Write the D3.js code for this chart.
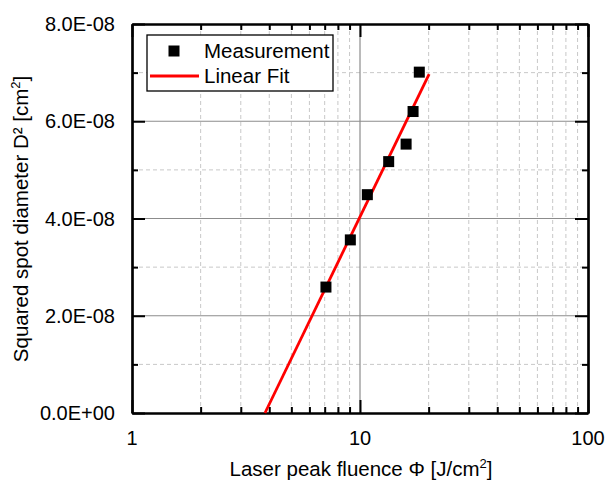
<!DOCTYPE html>
<html>
<head>
<meta charset="utf-8">
<script src="https://cdn.jsdelivr.net/npm/d3@7"></script>
<style>
  body { margin: 0; background: #fff; }
  svg text { font-family: "Liberation Sans", Arial, sans-serif; fill: #000; }
</style>
</head>
<body>
<svg width="606" height="480"></svg>
<script>
// data
var fluence = [7.09, 9.07, 10.77, 13.36, 15.93, 17.09, 18.2];
var diameterSq = [2.59e-8, 3.56e-8, 4.49e-8, 5.17e-8, 5.53e-8, 6.20e-8, 7.01e-8];
// two ends of the fitted line (linear in log x)
var fitFluence = [3.83, 20.1];
var fitD2 = [0, 6.97e-8];

var xMajor = [1, 10, 100];
var xMajorLabels = ["1", "10", "100"];
var yMajor = [0, 2e-8, 4e-8, 6e-8, 8e-8];
var yMajorLabels = ["0.0E+00", "2.0E-08", "4.0E-08", "6.0E-08", "8.0E-08"];
var yMinor = [1e-8, 3e-8, 5e-8, 7e-8];
var legendNames = ["Measurement", "Linear Fit"];

var svg = d3.select("svg"),
    margin = {top: 24, right: 18, bottom: 67, left: 132},
    width = +svg.attr("width") - margin.left - margin.right,
    height = +svg.attr("height") - margin.top - margin.bottom;

var x = d3.scaleLog().domain([1, 100]).range([0, width]),
    y = d3.scaleLinear().domain([0, 8e-8]).range([height, 0]);

// minor x values 2..9, 20..90
var xMinor = [];
[1, 10].forEach(function(d) {
  for (var k = 2; k <= 9; k++) xMinor.push(d * k);
});

var g = svg.append("g")
    .attr("transform", "translate(" + margin.left + "," + margin.top + ")");

// grid: minor dashed
g.selectAll(".gx-minor").data(xMinor).enter().append("line")
    .attr("x1", function(d) { return x(d); }).attr("x2", function(d) { return x(d); })
    .attr("y1", 0).attr("y2", height)
    .attr("stroke", "#c8c8c8").attr("stroke-dasharray", "4,3");
g.selectAll(".gy-minor").data(yMinor).enter().append("line")
    .attr("x1", 0).attr("x2", width)
    .attr("y1", function(d) { return y(d); }).attr("y2", function(d) { return y(d); })
    .attr("stroke", "#c8c8c8").attr("stroke-dasharray", "4,3");

// grid: major solid
g.selectAll(".gx-major").data([10]).enter().append("line")
    .attr("x1", function(d) { return x(d); }).attr("x2", function(d) { return x(d); })
    .attr("y1", 0).attr("y2", height)
    .attr("stroke", "#8c8c8c").attr("stroke-width", 1.2);
g.selectAll(".gy-major").data([2e-8, 4e-8, 6e-8]).enter().append("line")
    .attr("x1", 0).attr("x2", width)
    .attr("y1", function(d) { return y(d); }).attr("y2", function(d) { return y(d); })
    .attr("stroke", "#8c8c8c").attr("stroke-width", 1.2);

// axes with inward ticks on all four sides
function styleAxis(sel) {
  sel.select(".domain").attr("stroke", "#000").attr("stroke-width", 2.2);
  sel.selectAll(".tick line").attr("stroke", "#000").attr("stroke-width", 2);
  sel.selectAll(".tick text").remove();
}

[
  [d3.axisBottom, "translate(0," + height + ")", -1],
  [d3.axisTop, "translate(0,0)", -1]
].forEach(function(a) {
  g.append("g").attr("transform", a[1])
      .call(a[0](x).tickValues(xMinor).tickSize(6 * a[2]).tickSizeOuter(0))
      .call(styleAxis);
  g.append("g").attr("transform", a[1])
      .call(a[0](x).tickValues(xMajor).tickSize(13 * a[2]).tickSizeOuter(0))
      .call(styleAxis);
});
[
  [d3.axisLeft, "translate(0,0)"],
  [d3.axisRight, "translate(" + width + ",0)"]
].forEach(function(a) {
  g.append("g").attr("transform", a[1])
      .call(a[0](y).tickValues(yMinor).tickSize(-6).tickSizeOuter(0))
      .call(styleAxis);
  g.append("g").attr("transform", a[1])
      .call(a[0](y).tickValues(yMajor).tickSize(-13).tickSizeOuter(0))
      .call(styleAxis);
});

// tick labels
g.selectAll(".xlab").data(xMajor).enter().append("text")
    .attr("x", function(d) { return x(d); })
    .attr("y", height + 32)
    .attr("text-anchor", "middle")
    .attr("font-size", 20)
    .text(function(d, i) { return xMajorLabels[i]; });
g.selectAll(".ylab").data(yMajor).enter().append("text")
    .attr("x", -17)
    .attr("y", function(d) { return y(d); })
    .attr("dy", "0.36em")
    .attr("text-anchor", "end")
    .attr("font-size", 20)
    .text(function(d, i) { return yMajorLabels[i]; });

// axis titles
var xt = svg.append("text")
    .attr("x", margin.left + x(10) + 1)
    .attr("y", 476)
    .attr("text-anchor", "middle")
    .attr("font-size", 20.5);
xt.append("tspan").text("Laser peak fluence \u03A6 [J/cm");
xt.append("tspan").attr("font-size", 13).attr("dy", -8).text("2");
xt.append("tspan").attr("dy", 8).text("]");

var yt = svg.append("text")
    .attr("transform", "translate(28,219) rotate(-90)")
    .attr("text-anchor", "middle")
    .attr("font-size", 20.5);
yt.append("tspan").text("Squared spot diameter D\u00B2 [cm");
yt.append("tspan").attr("font-size", 13).attr("dy", -8).text("2");
yt.append("tspan").attr("dy", 8).text("]");

// fit line
var line = d3.line()
    .x(function(d) { return x(d[0]); })
    .y(function(d) { return y(d[1]); });
g.append("path")
    .datum(d3.zip(fitFluence, fitD2))
    .attr("d", line)
    .attr("fill", "none")
    .attr("stroke", "#ff0000")
    .attr("stroke-width", 2.8);

// measurement markers
var s = 11;
g.selectAll(".pt").data(d3.zip(fluence, diameterSq)).enter().append("rect")
    .attr("x", function(d) { return x(d[0]) - s / 2; })
    .attr("y", function(d) { return y(d[1]) - s / 2; })
    .attr("width", s).attr("height", s)
    .attr("fill", "#000");

// legend
var lg = svg.append("g").attr("transform", "translate(147,35)");
lg.append("rect")
    .attr("width", 186).attr("height", 56)
    .attr("fill", "#fff").attr("stroke", "#000").attr("stroke-width", 1.3);
lg.append("rect")
    .attr("x", 27 - s / 2).attr("y", 16 - s / 2)
    .attr("width", s).attr("height", s).attr("fill", "#000");
lg.append("line")
    .attr("x1", 3).attr("x2", 52).attr("y1", 41).attr("y2", 41)
    .attr("stroke", "#ff0000").attr("stroke-width", 2.8);
lg.selectAll(".ltxt").data(legendNames).enter().append("text")
    .attr("x", 57)
    .attr("y", function(d, i) { return 23 + i * 25; })
    .attr("font-size", 20.5)
    .text(function(d) { return d; });
</script>
</body>
</html>
